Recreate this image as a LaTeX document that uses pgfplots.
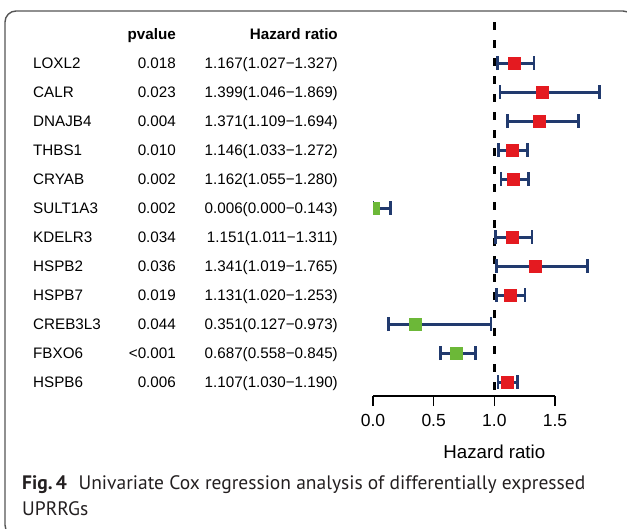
\documentclass[border=0pt]{standalone}
\usepackage{pgfplots}
\usepackage{pgfplotstable}
\pgfplotsset{compat=1.18}
\usepackage{fontspec}
\setmainfont{Liberation Sans}
\newfontfamily\capfont{PT Sans}

\definecolor{barblue}{RGB}{33,58,110}
\definecolor{hrred}{RGB}{228,26,32}
\definecolor{hrgreen}{RGB}{108,184,56}
\definecolor{framegray}{RGB}{85,85,85}
\definecolor{captext}{RGB}{35,31,32}

% Univariate Cox results: row position (top = -1), hazard ratio and 95% CI
\pgfplotstableread{
gene    pos  hr     lo     hi
LOXL2   -1   1.167  1.027  1.327
CALR    -2   1.399  1.046  1.869
DNAJB4  -3   1.371  1.109  1.694
THBS1   -4   1.146  1.033  1.272
CRYAB   -5   1.162  1.055  1.280
KDELR3  -7   1.151  1.011  1.311
HSPB2   -8   1.341  1.019  1.765
HSPB7   -9   1.131  1.020  1.253
HSPB6   -12  1.107  1.030  1.190
}\riskgenes

\pgfplotstableread{
gene    pos  hr     lo     hi
SULT1A3 -6   0.006  0.000  0.143
CREB3L3 -10  0.351  0.127  0.973
FBXO6   -11  0.687  0.558  0.845
}\protgenes

\tikzset{
  rowtext/.style={inner sep=0pt, text height=10.9bp, text depth=0pt,
    font=\fontsize{15.2bp}{18bp}\selectfont},
}
\pgfplotsset{
  every error bar/.style={line width=3bp},
  ci/.style={barblue, line width=3bp, only marks, mark=none,
    error bars/.cd, x dir=both, x explicit,
    error bar style={barblue, line width=3bp},
    error mark=|,
    error mark options={barblue, line width=2.8bp, mark size=7bp}},
}

\begin{document}
\begin{tikzpicture}
\useasboundingbox (0bp,0bp) rectangle (627bp,-529bp);

% rounded frame around the figure
\draw[framegray, line width=1.4bp, rounded corners=11bp]
  (5bp,-11bp) rectangle (634bp,-536bp);

% table columns
\node[rowtext, anchor=east, font=\fontsize{15.2bp}{18bp}\selectfont\bfseries] at (176bp,-34bp) {pvalue};
\node[rowtext, anchor=east, font=\fontsize{15.2bp}{18bp}\selectfont\bfseries] at (338bp,-34bp) {Hazard ratio};
\foreach \k/\g/\p/\h in {
  1/LOXL2/0.018/{1.167(1.027−1.327)},
  2/CALR/0.023/{1.399(1.046−1.869)},
  3/DNAJB4/0.004/{1.371(1.109−1.694)},
  4/THBS1/0.010/{1.146(1.033−1.272)},
  5/CRYAB/0.002/{1.162(1.055−1.280)},
  6/SULT1A3/0.002/{0.006(0.000−0.143)},
  7/KDELR3/0.034/{1.151(1.011−1.311)},
  8/HSPB2/0.036/{1.341(1.019−1.765)},
  9/HSPB7/0.019/{1.131(1.020−1.253)},
  10/CREB3L3/0.044/{0.351(0.127−0.973)},
  11/FBXO6/{<0.001}/{0.687(0.558−0.845)},
  12/HSPB6/0.006/{1.107(1.030−1.190)}}{
  \pgfmathsetmacro\yy{-63-29*(\k-1)}
  \node[rowtext, anchor=west] at (33bp,\yy bp) {\g};
  \node[rowtext, anchor=east] at (176bp,\yy bp) {\p};
  \node[rowtext, anchor=east] at (338bp,\yy bp) {\h};
}

\begin{axis}[
  at={(373bp,-396bp)}, anchor=south west,
  x=121.33bp, y=29bp,
  xmin=0, xmax=1.95, ymin=-12.48, ymax=0.41,
  axis x line*=bottom, axis y line=none,
  x axis line style={line width=1.2bp, shorten >=54.6bp},
  xtick={0,0.5,1,1.5}, xticklabels={0.0,0.5,1.0,1.5},
  ytick=\empty,
  tick align=outside, major tick length=10bp,
  tick style={black, line width=1.2bp},
  /pgf/number format/assume math mode=true,
  xticklabel style={font=\fontsize{17.5bp}{19bp}\selectfont, yshift=-4.5bp},
  xlabel={Hazard ratio},
  every axis x label/.style={at={(axis cs:1,-12.48)}, anchor=center,
    yshift=-56bp, font=\fontsize{18.7bp}{21bp}\selectfont},
  clip marker paths=true,
]
% reference line at HR = 1
\addplot[black, line width=2.6bp, dash pattern=on 8bp off 10bp, forget plot]
  coordinates {(1,0.41) (1,-12.48)};

% confidence intervals
\addplot[ci] table[x=hr, y=pos,
    x error plus expr=\thisrow{hi}-\thisrow{hr},
    x error minus expr=\thisrow{hr}-\thisrow{lo}] {\riskgenes};
\addplot[ci] table[x=hr, y=pos,
    x error plus expr=\thisrow{hi}-\thisrow{hr},
    x error minus expr=\thisrow{hr}-\thisrow{lo}] {\protgenes};

% point estimates
\addplot[only marks, mark=square*, mark size=6bp,
  mark options={solid, draw=hrred, fill=hrred, line width=0pt}]
  table[x=hr, y=pos] {\riskgenes};
\addplot[only marks, mark=square*, mark size=6bp,
  mark options={solid, draw=hrgreen, fill=hrgreen, line width=0pt}]
  table[x=hr, y=pos] {\protgenes};
\end{axis}

% caption
\node[anchor=base west, inner sep=0pt, text=captext,
  font=\capfont\fontsize{19.5bp}{23bp}\selectfont] at (22bp,-489bp)
  {\textbf{Fig.\,4}\hspace{0.6em}Univariate Cox regression analysis of differentially expressed};
\node[anchor=base west, inner sep=0pt, text=captext,
  font=\capfont\fontsize{19.5bp}{23bp}\selectfont] at (22bp,-515bp) {UPRRGs};
\end{tikzpicture}
\end{document}
